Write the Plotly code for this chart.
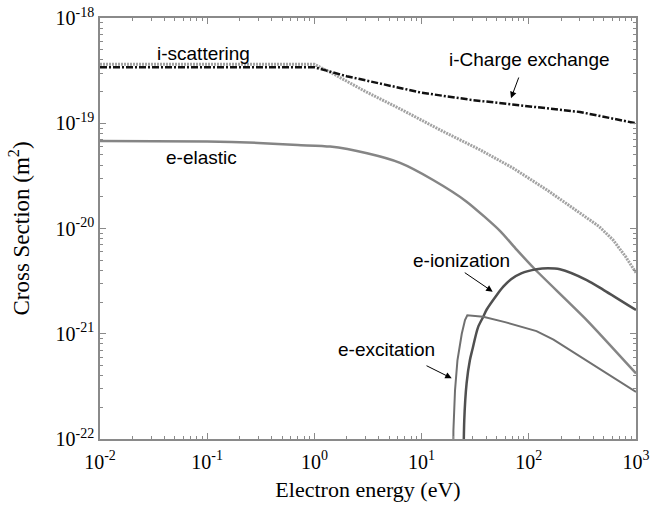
import plotly.graph_objects as go

# ---- data ----
scat_E = [0.01, 1.0, 1.5, 3.0, 6.3, 15, 35, 71, 148, 300, 450, 610, 800, 1000]
scat_s = [3.63e-19, 3.63e-19, 2.95e-19, 2.0e-19, 1.37e-19, 8.6e-20, 5.6e-20, 3.76e-20, 2.32e-20, 1.40e-20, 1.05e-20, 7.8e-21, 5.4e-21, 3.8e-21]

cex_E = [0.01, 1.0, 2.0, 5.0, 10, 30, 100, 300, 1000]
cex_s = [3.4e-19, 3.4e-19, 2.8e-19, 2.3e-19, 1.95e-19, 1.66e-19, 1.44e-19, 1.28e-19, 1.0e-19]

ela_E = [0.01, 0.1, 0.3, 0.7, 1.4, 3.1, 6.3, 12.8, 26.3, 53.8, 77, 114, 347, 1000]
ela_s = [6.8e-20, 6.7e-20, 6.5e-20, 6.2e-20, 6.0e-20, 5.18e-20, 4.2e-20, 2.89e-20, 1.8e-20, 9.5e-21, 6.3e-21, 4.1e-21, 1.35e-21, 4.2e-22]

ion_E = [24.3, 25, 26.3, 28.2, 29.7, 33.6, 37.6, 40.5, 50.5, 57.8, 68.3, 85, 118, 151, 195, 347, 500, 1000]
ion_s = [1e-23, 1.5e-22, 3.4e-22, 5.6e-22, 7.0e-22, 1.15e-21, 1.45e-21, 1.7e-21, 2.35e-21, 2.8e-21, 3.3e-21, 3.75e-21, 4.1e-21, 4.19e-21, 4.1e-21, 3.24e-21, 2.6e-21, 1.68e-21]

exc_E = [19.5, 19.8, 20.5, 21.6, 23.7, 25.4, 26.7, 37.6, 60, 80, 118, 170, 242, 500, 1000]
exc_s = [1e-24, 1.2e-22, 2.9e-22, 5.6e-22, 1.0e-21, 1.35e-21, 1.5e-21, 1.45e-21, 1.29e-21, 1.19e-21, 1.06e-21, 8.8e-22, 7.0e-22, 4.37e-22, 2.8e-22]

x_ticks = [0.01, 0.1, 1, 10, 100, 1000]
x_ticktext = ["10<sup>-2</sup>", "10<sup>-1</sup>", "10<sup>0</sup>", "10<sup>1</sup>", "10<sup>2</sup>", "10<sup>3</sup>"]
y_ticks = [1e-22, 1e-21, 1e-20, 1e-19, 1e-18]
y_ticktext = ["10<sup>-22</sup>", "10<sup>-21</sup>", "10<sup>-20</sup>", "10<sup>-19</sup>", "10<sup>-18</sup>"]

x_minor = [m * d for d in [0.01, 0.1, 1, 10, 100] for m in range(2, 10)]
y_minor = [m * d for d in [1e-22, 1e-21, 1e-20, 1e-19] for m in range(2, 10)]

fig = go.Figure()
fig.add_trace(go.Scatter(x=scat_E, y=scat_s, mode="lines",
                         line=dict(color="#a3a3a3", width=3, dash="2px,1px")))
fig.add_trace(go.Scatter(x=cex_E, y=cex_s, mode="lines",
                         line=dict(color="#111111", width=2.5, dash="7px,2px,2px,2px")))
fig.add_trace(go.Scatter(x=ela_E, y=ela_s, mode="lines",
                         line=dict(color="#858585", width=2.5, shape="spline", smoothing=0.6)))
fig.add_trace(go.Scatter(x=ion_E, y=ion_s, mode="lines",
                         line=dict(color="#505050", width=2.5, shape="spline", smoothing=0.8)))
fig.add_trace(go.Scatter(x=exc_E, y=exc_s, mode="lines",
                         line=dict(color="#707070", width=2)))

label_font = dict(family="Liberation Sans, Arial, sans-serif", size=19, color="black")
serif = "Liberation Serif, Times New Roman, serif"

labels = [
    ("i-scattering", -1.039, -18.333),
    ("i-Charge exchange", 2.011, -18.39),
    ("e-elastic", -1.049, -19.33),
    ("e-ionization", 1.368, -20.30),
    ("e-excitation", 0.677, -21.154),
]
for t, lx, ly in labels:
    fig.add_annotation(x=lx, y=ly, xref="x", yref="y", text=t, showarrow=False,
                       font=label_font, xanchor="center", yanchor="middle")

arrows = [
    (1.834, -18.763, 8.3, -22.3),
    (1.663, -20.60, -29.4, -20.0),
    (1.281, -21.423, -26.7, -13.3),
]
for axx, ayy, dx, dy in arrows:
    fig.add_annotation(x=axx, y=ayy, xref="x", yref="y", text="", showarrow=True,
                       ax=dx, ay=dy, arrowhead=2, arrowsize=1.3, arrowwidth=1,
                       arrowcolor="black")

axis_common = dict(
    showline=True, linecolor="#8a8a8a", linewidth=1.5, mirror="allticks",
    ticks="inside", ticklen=6, tickcolor="#8a8a8a", tickwidth=1,
    showgrid=False, zeroline=False, automargin=False,
    tickfont=dict(family=serif, size=20, color="black"),
)

fig.update_xaxes(type="log", range=[-2, 3], tickmode="array", tickvals=x_ticks,
                 ticktext=x_ticktext, ticklabelstandoff=4,
                 minor=dict(tickmode="array", tickvals=x_minor, ticks="inside", ticklen=3,
                            tickcolor="#8a8a8a", showgrid=False),
                 title=dict(text="Electron energy (eV)", font=dict(family=serif, size=22, color="black"),
                            standoff=10),
                 **axis_common)
fig.update_yaxes(type="log", range=[-22, -18], tickmode="array", tickvals=y_ticks,
                 ticktext=y_ticktext,
                 minor=dict(tickmode="array", tickvals=y_minor, ticks="inside", ticklen=3,
                            tickcolor="#8a8a8a", showgrid=False),
                 title=dict(text="Cross Section (m<sup>2</sup>)", font=dict(family=serif, size=23, color="black"),
                            standoff=20),
                 **axis_common)

fig.update_layout(
    width=651, height=508,
    margin=dict(l=100, r=15, t=18, b=69),
    plot_bgcolor="white", paper_bgcolor="white",
    showlegend=False,
)

fig.write_html("out.html", config={"displayModeBar": False},
               post_script="document.body.style.margin='0';document.body.style.overflow='hidden';")
